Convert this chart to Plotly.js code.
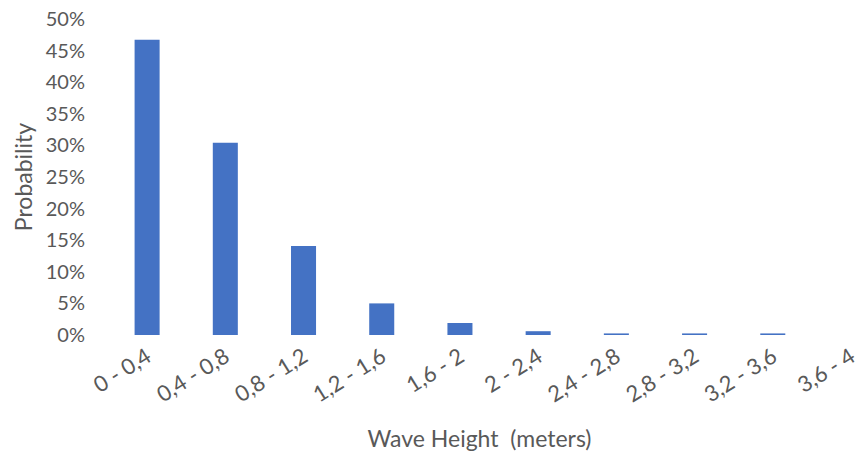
<!DOCTYPE html>
<html><head><meta charset="utf-8">
<script src="https://cdn.plot.ly/plotly-3.0.1.min.js"></script>
<style>body{margin:0;background:#fff}#c{width:861px;height:464px}</style>
</head><body><div id="c"></div>
<script>
const categories = ["0 - 0,4","0,4 - 0,8","0,8 - 1,2","1,2 - 1,6","1,6 - 2","2 - 2,4","2,4 - 2,8","2,8 - 3,2","3,2 - 3,6","3,6 - 4"];
const probability = [0.467, 0.304, 0.141, 0.050, 0.019, 0.006, 0.0025, 0.0025, 0.0025, 0];
const yTicks = [0,0.05,0.10,0.15,0.20,0.25,0.30,0.35,0.40,0.45,0.50];

const fam = "Lato, 'Open Sans', sans-serif";
const grey = "#595959";
Plotly.newPlot("c", [{
  type: "bar", x: categories, y: probability,
  marker: {color: "#4472C4"}, hoverinfo: "skip"
}], {
  width: 861, height: 464,
  margin: {l: 108, r: 10, t: 19, b: 129},
  bargap: 0.68,
  paper_bgcolor: "#fff", plot_bgcolor: "#fff",
  showlegend: false,
  font: {family: fam, color: grey},
  xaxis: {
    type: "category", range: [-0.5, 9.0],
    tickangle: -32, showgrid: false, showline: false, zeroline: false,
    tickfont: {family: fam, color: grey, size: 22},
    ticklabelstandoff: 4,
    title: {text: "Wave Height  (meters)", font: {family: fam, color: grey, size: 23}, standoff: 24}
  },
  yaxis: {
    range: [0, 0.5], tickvals: yTicks, tickformat: ".0%",
    showgrid: false, showline: false, zeroline: false,
    tickfont: {family: fam, color: grey, size: 20},
    ticklabelstandoff: 22,
    title: {text: "Probability", font: {family: fam, color: grey, size: 23}, standoff: 6}
  }
}, {displayModeBar: false, staticPlot: true});
</script></body></html>
